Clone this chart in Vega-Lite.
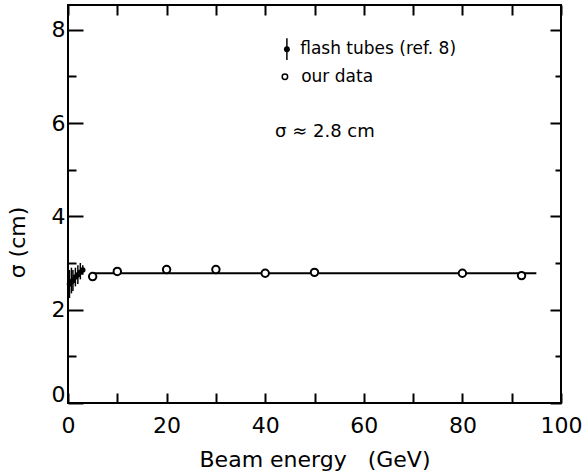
{
  "$schema": "https://vega.github.io/schema/vega-lite/v6.json",
  "width": 493,
  "height": 398,
  "autosize": "none",
  "padding": {"left": 68, "top": 5, "right": 24, "bottom": 72},
  "background": "white",
  "config": {
    "view": {"stroke": "black", "strokeWidth": 2},
    "font": "DejaVu Sans",
    "axis": {
      "grid": false,
      "domain": false,
      "labelFont": "DejaVu Sans",
      "labelFontSize": 22,
      "labelColor": "black",
      "tickColor": "black",
      "tickWidth": 2,
      "titleFont": "DejaVu Sans",
      "titleFontSize": 22,
      "titleFontWeight": "normal",
      "titleColor": "black"
    }
  },
  "datasets": {
    "ours": [
      {"energy": 5, "sigma": 2.71},
      {"energy": 10, "sigma": 2.82},
      {"energy": 20, "sigma": 2.86},
      {"energy": 30, "sigma": 2.86},
      {"energy": 40, "sigma": 2.78},
      {"energy": 50, "sigma": 2.8},
      {"energy": 80, "sigma": 2.78},
      {"energy": 92, "sigma": 2.73}
    ],
    "flash": [
      {"energy": 0.3, "sigma": 2.55, "lo": 2.25, "hi": 2.85},
      {"energy": 0.7, "sigma": 2.6, "lo": 2.35, "hi": 2.9},
      {"energy": 1.0, "sigma": 2.62, "lo": 2.4, "hi": 2.85},
      {"energy": 1.5, "sigma": 2.7, "lo": 2.5, "hi": 2.9},
      {"energy": 2.0, "sigma": 2.75, "lo": 2.55, "hi": 2.95},
      {"energy": 2.5, "sigma": 2.8, "lo": 2.65, "hi": 3.0},
      {"energy": 3.0, "sigma": 2.85, "lo": 2.75, "hi": 2.95}
    ]
  },
  "resolve": {"axis": {"x": "independent", "y": "independent"}},
  "layer": [
    {
      "data": {"values": [{}]},
      "mark": {"type": "rule", "color": "black", "strokeWidth": 2},
      "encoding": {
        "x": {"datum": 5, "type": "quantitative", "scale": {"domain": [0, 100], "nice": false, "zero": false},
              "axis": {"orient": "top", "values": [0,10,20,30,40,50,60,70,80,90,100], "labels": false, "tickSize": -10, "title": null}},
        "x2": {"datum": 95},
        "y": {"datum": 2.78, "type": "quantitative", "scale": {"domain": [0, 8.53], "nice": false, "zero": false},
              "axis": {"orient": "right", "values": [0,1,2,3,4,5,6,7,8], "labels": false,
                       "tickSize": {"condition": {"test": "datum.value % 2 === 0", "value": -11}, "value": -6}, "title": null}}
      }
    },
    {
      "data": {"name": "flash"},
      "mark": {"type": "rule", "color": "black", "strokeWidth": 1.5},
      "encoding": {
        "x": {"field": "energy", "type": "quantitative", "scale": {"domain": [0, 100], "nice": false, "zero": false},
              "axis": {"orient": "bottom", "values": [0,10,20,30,40,50,60,70,80,90,100], "tickSize": -10,
                       "labelExpr": "datum.value % 20 === 0 ? datum.label : ''", "labelPadding": 22, "labelFlush": false,
                       "title": "Beam energy\u00a0\u00a0\u00a0(GeV)", "titlePadding": 13}},
        "y": {"field": "lo", "type": "quantitative", "scale": {"domain": [0, 8.53], "nice": false, "zero": false},
              "axis": {"orient": "left", "values": [0,1,2,3,4,5,6,7,8],
                       "tickSize": {"condition": {"test": "datum.value % 2 === 0", "value": -15}, "value": -8},
                       "labelExpr": "datum.value % 2 === 0 ? datum.label : ''", "labelPadding": 18,
                       "labelOffset": {"condition": {"test": "datum.value === 0", "value": -9}, "value": 0},
                       "title": "σ (cm)", "titlePadding": 22, "titleY": 237}},
        "y2": {"field": "hi"}
      }
    },
    {
      "data": {"name": "flash"},
      "mark": {"type": "point", "shape": "circle", "filled": true, "color": "black", "size": 30, "opacity": 1},
      "encoding": {
        "x": {"field": "energy", "type": "quantitative", "scale": {"domain": [0, 100], "nice": false, "zero": false}, "axis": null},
        "y": {"field": "sigma", "type": "quantitative", "scale": {"domain": [0, 8.53], "nice": false, "zero": false}, "axis": null}
      }
    },
    {
      "data": {"name": "ours"},
      "mark": {"type": "point", "shape": "circle", "filled": true, "fill": "white", "stroke": "black", "strokeWidth": 2, "size": 55, "opacity": 1},
      "encoding": {
        "x": {"field": "energy", "type": "quantitative", "scale": {"domain": [0, 100], "nice": false, "zero": false}, "axis": null},
        "y": {"field": "sigma", "type": "quantitative", "scale": {"domain": [0, 8.53], "nice": false, "zero": false}, "axis": null}
      }
    },
    {
      "data": {"values": [{}]},
      "mark": {"type": "rule", "color": "black", "strokeWidth": 1.5},
      "encoding": {
        "x": {"datum": 44.4, "type": "quantitative", "scale": {"domain": [0, 100], "nice": false, "zero": false}, "axis": null},
        "y": {"datum": 7.35, "type": "quantitative", "scale": {"domain": [0, 8.53], "nice": false, "zero": false}, "axis": null},
        "y2": {"datum": 7.82}
      }
    },
    {
      "data": {"values": [{}]},
      "mark": {"type": "point", "shape": "circle", "filled": true, "color": "black", "size": 35, "opacity": 1},
      "encoding": {
        "x": {"datum": 44.4, "type": "quantitative", "scale": {"domain": [0, 100], "nice": false, "zero": false}, "axis": null},
        "y": {"datum": 7.58, "type": "quantitative", "scale": {"domain": [0, 8.53], "nice": false, "zero": false}, "axis": null}
      }
    },
    {
      "data": {"values": [{}]},
      "mark": {"type": "point", "shape": "circle", "filled": true, "fill": "white", "stroke": "black", "strokeWidth": 1.5, "size": 30, "opacity": 1},
      "encoding": {
        "x": {"datum": 44.0, "type": "quantitative", "scale": {"domain": [0, 100], "nice": false, "zero": false}, "axis": null},
        "y": {"datum": 6.99, "type": "quantitative", "scale": {"domain": [0, 8.53], "nice": false, "zero": false}, "axis": null}
      }
    },
    {
      "data": {"values": [{}]},
      "mark": {"type": "text", "text": "flash tubes (ref. 8)", "align": "left", "baseline": "middle", "fontSize": 17, "font": "DejaVu Sans", "color": "black"},
      "encoding": {
        "x": {"datum": 47.1, "type": "quantitative", "scale": {"domain": [0, 100], "nice": false, "zero": false}, "axis": null},
        "y": {"datum": 7.58, "type": "quantitative", "scale": {"domain": [0, 8.53], "nice": false, "zero": false}, "axis": null}
      }
    },
    {
      "data": {"values": [{}]},
      "mark": {"type": "text", "text": "our data", "align": "left", "baseline": "middle", "fontSize": 17, "font": "DejaVu Sans", "color": "black"},
      "encoding": {
        "x": {"datum": 47.3, "type": "quantitative", "scale": {"domain": [0, 100], "nice": false, "zero": false}, "axis": null},
        "y": {"datum": 6.99, "type": "quantitative", "scale": {"domain": [0, 8.53], "nice": false, "zero": false}, "axis": null}
      }
    },
    {
      "data": {"values": [{}]},
      "mark": {"type": "text", "text": "σ ≈ 2.8 cm", "align": "left", "baseline": "middle", "fontSize": 18, "font": "DejaVu Sans", "color": "black"},
      "encoding": {
        "x": {"datum": 42.0, "type": "quantitative", "scale": {"domain": [0, 100], "nice": false, "zero": false}, "axis": null},
        "y": {"datum": 5.8, "type": "quantitative", "scale": {"domain": [0, 8.53], "nice": false, "zero": false}, "axis": null}
      }
    }
  ]
}
